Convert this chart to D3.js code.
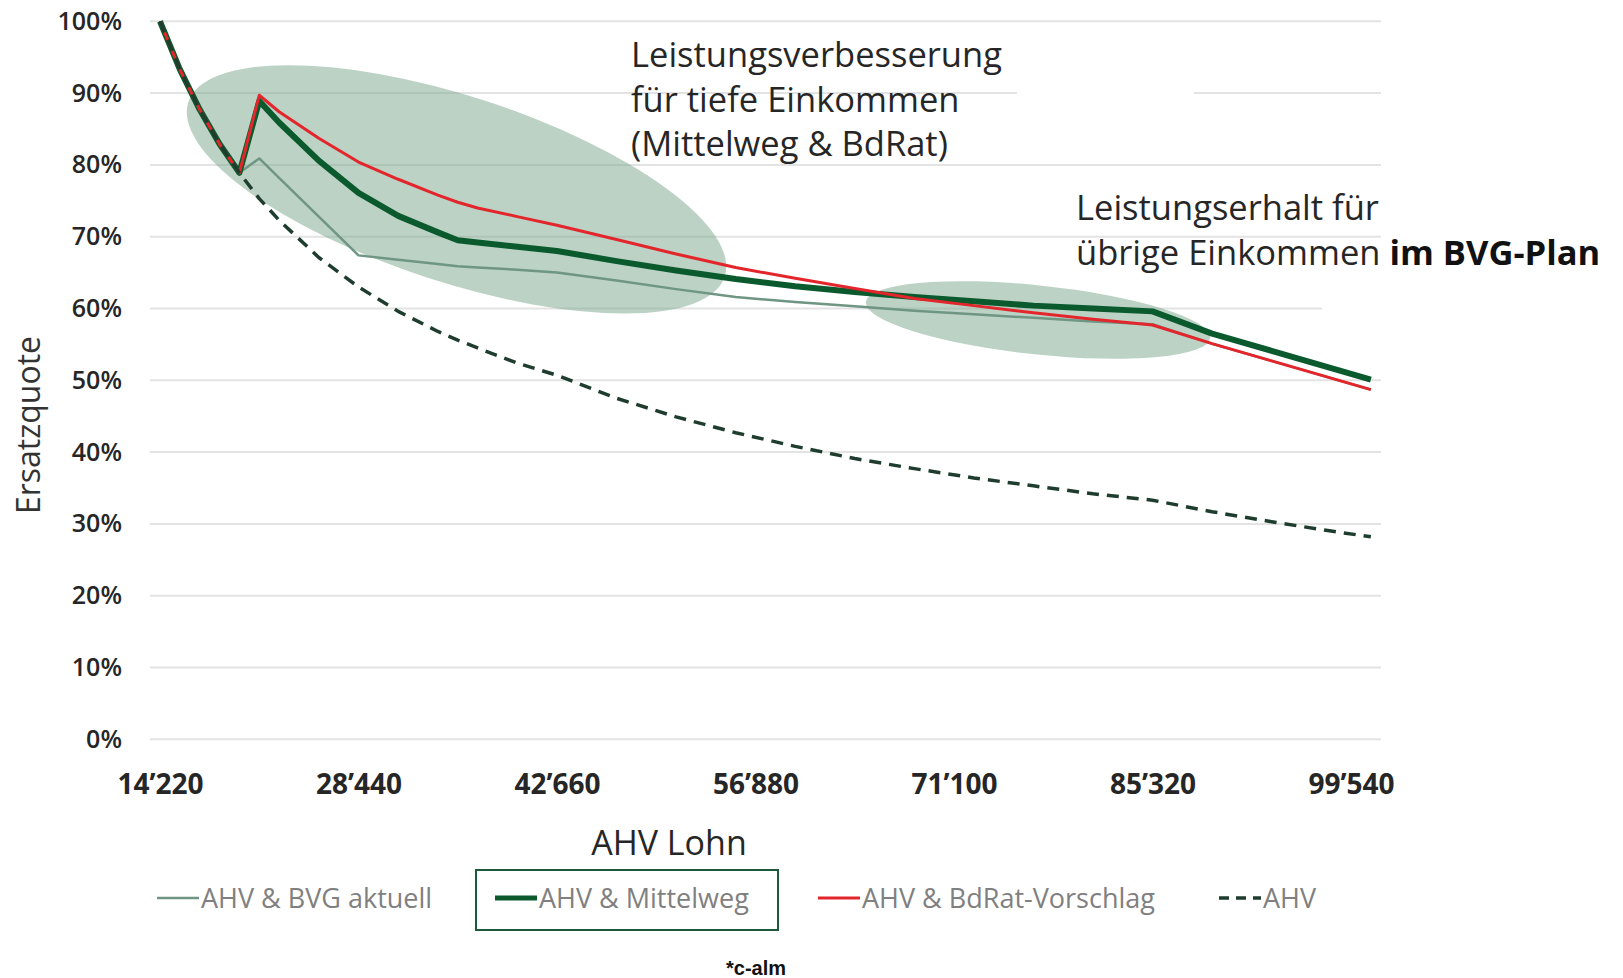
<!DOCTYPE html>
<html>
<head>
<meta charset="utf-8">
<script src="https://cdn.jsdelivr.net/npm/d3@7"></script>
<style>
  body { margin: 0; background: #fff; }
  svg text { font-family: 'Open Sans', 'Noto Sans', sans-serif; }
</style>
</head>
<body>
<div id="graph"></div>
<script>
var lohn = [14220, 15642, 17064, 18486, 19908, 21330, 22752, 25596, 28440, 31284, 34128, 35550,
  36972, 39816, 42660, 46926, 51192, 55458, 59724, 63990, 68256, 72522, 76788, 81054, 85320,
  89586, 93852, 98118, 100962]

// Ersatzquote in %
var bvgAktuell = [100, 93.3, 87.7, 82.9, 78.9, 80.9, 78.2, 72.8, 67.4, 66.8, 66.2, 65.9,
  65.7, 65.4, 65.0, 63.9, 62.7, 61.6, 60.9, 60.3, 59.7, 59.2, 58.7, 58.2, 57.8,
  55.1, 52.7, 50.3, 48.7]
var mittelweg = [100, 93.3, 87.7, 82.9, 78.9, 88.9, 85.9, 80.6, 76.1, 72.9, 70.6, 69.5,
  69.2, 68.6, 68.0, 66.6, 65.3, 64.1, 63.1, 62.3, 61.6, 61.0, 60.4, 60.0, 59.6,
  56.5, 54.1, 51.7, 50.1]
var bdRat = [100, 93.3, 87.7, 82.9, 78.9, 89.7, 87.4, 83.7, 80.4, 78.0, 75.8, 74.8,
  74.0, 72.8, 71.6, 69.6, 67.6, 65.7, 64.2, 62.8, 61.4, 60.4, 59.4, 58.5, 57.7,
  55.1, 52.7, 50.3, 48.7]
var ahv = [100, 93.3, 87.7, 82.9, 78.9, 75.3, 72.3, 67.1, 63.0, 59.6, 56.8, 55.6,
  54.5, 52.4, 50.7, 47.5, 44.9, 42.7, 40.8, 39.1, 37.7, 36.4, 35.3, 34.2, 33.3,
  31.7, 30.3, 29.0, 28.2]

var xTicks = [14220, 28440, 42660, 56880, 71100, 85320, 99540]
var yTicks = [0, 10, 20, 30, 40, 50, 60, 70, 80, 90, 100]

var seriesNames = ['AHV & BVG aktuell', 'AHV & Mittelweg', 'AHV & BdRat-Vorschlag', 'AHV']
var seriesValues = [bvgAktuell, mittelweg, bdRat, ahv]

var W = 1623, H = 978
var svg = d3.select('#graph').append('svg').attr('width', W).attr('height', H)

var x = d3.scaleLinear().domain([14220, 99540]).range([160, 1351])
var y = d3.scaleLinear().domain([0, 100]).range([739.3, 21.3])
var gridX0 = 150, gridX1 = 1381

var styles = [
  {color: '#6f9583', width: 2.5, dash: null},
  {color: '#0a5a2e', width: 6, dash: null},
  {color: '#e3262b', width: 3, dash: null},
  {color: '#1f3d2e', width: 3.5, dash: '12,8'}
]

// gridlines
svg.append('g')
  .selectAll('line').data(yTicks).join('line')
  .attr('x1', gridX0).attr('x2', gridX1)
  .attr('y1', d => y(d)).attr('y2', d => y(d))
  .attr('stroke', '#e3e3e3').attr('stroke-width', 2)

// white gaps left by the text boxes
svg.append('rect').attr('x', 1017).attr('y', y(90) - 3).attr('width', 177).attr('height', 6).attr('fill', '#fff')
svg.append('rect').attr('x', 1322).attr('y', y(60) - 3).attr('width', 62).attr('height', 6).attr('fill', '#fff')

// highlight ellipses (centre in data units, radii in px)
var ellipses = [
  {lohn: 35460, quote: 76.6, rx: 282, ry: 93, angle: 18},
  {lohn: 77120, quote: 58.4, rx: 173, ry: 34.5, angle: 6}
]
svg.append('g').selectAll('ellipse').data(ellipses).join('ellipse')
  .attr('cx', 0).attr('cy', 0)
  .attr('rx', d => d.rx).attr('ry', d => d.ry)
  .attr('transform', d => `translate(${x(d.lohn)},${y(d.quote)}) rotate(${d.angle})`)
  .attr('fill', 'rgb(120,165,140)').attr('fill-opacity', 0.5)

// lines
var line = d3.line().x((d, i) => x(lohn[i])).y(d => y(d))
svg.append('g').selectAll('path').data(seriesValues).join('path')
  .attr('d', d => line(d))
  .attr('fill', 'none')
  .attr('stroke', (d, i) => styles[i].color)
  .attr('stroke-width', (d, i) => styles[i].width)
  .attr('stroke-dasharray', (d, i) => styles[i].dash)
  .attr('stroke-linejoin', 'round')

// y axis
var yAxis = svg.append('g').attr('transform', `translate(${gridX0},0)`)
  .call(d3.axisLeft(y).tickValues(yTicks).tickSize(0).tickPadding(28).tickFormat(d => d + '%'))
yAxis.select('.domain').remove()
yAxis.selectAll('text').attr('font-size', 25).attr('font-weight', 600).attr('fill', '#262626')
  .attr('font-family', "'Open Sans', sans-serif")

// x axis
var fmt = d3.formatLocale({decimal: '.', thousands: '’', grouping: [3], currency: ['', '']}).format(',')
var xAxis = svg.append('g').attr('transform', `translate(0,${y(0)})`)
  .call(d3.axisBottom(x).tickValues(xTicks).tickSize(0).tickPadding(35).tickFormat(fmt))
xAxis.select('.domain').remove()
xAxis.selectAll('text').attr('font-size', 28).attr('font-weight', 700).attr('fill', '#262626')
  .attr('font-family', "'Open Sans', sans-serif")

// axis titles
svg.append('text').text('AHV Lohn')
  .attr('x', 669).attr('y', 855).attr('text-anchor', 'middle')
  .attr('font-size', 34).attr('fill', '#262626')
svg.append('text').text('Ersatzquote')
  .attr('transform', 'translate(40,425) rotate(-90)').attr('text-anchor', 'middle')
  .attr('font-size', 32).attr('fill', '#333')

// annotations
var note1 = ['Leistungsverbesserung', 'für tiefe Einkommen', '(Mittelweg & BdRat)']
svg.append('g').selectAll('text').data(note1).join('text')
  .text(d => d)
  .attr('x', 631).attr('y', (d, i) => 67 + i * 44.5)
  .attr('font-size', 34.5).attr('fill', '#262626')

var n2 = svg.append('g')
n2.append('text').text('Leistungserhalt für')
  .attr('x', 1076).attr('y', 220).attr('font-size', 34.5).attr('fill', '#262626')
var t2 = n2.append('text').attr('x', 1076).attr('y', 265).attr('font-size', 34.5).attr('fill', '#262626')
t2.append('tspan').text('übrige Einkommen ')
t2.append('tspan').text('im BVG-Plan').attr('font-weight', 700).attr('fill', '#111')

// legend
var legendX = [157, 495, 818, 1219]
var legY = 898
var leg = svg.append('g').selectAll('g').data(seriesNames).join('g')
  .attr('transform', (d, i) => `translate(${legendX[i]},${legY})`)
leg.append('line')
  .attr('x1', 0).attr('x2', 42)
  .attr('stroke', (d, i) => styles[i].color)
  .attr('stroke-width', (d, i) => Math.min(styles[i].width, 5))
  .attr('stroke-dasharray', (d, i) => styles[i].dash ? '10,7' : null)
leg.append('text').text(d => d)
  .attr('x', 44).attr('y', 9.5)
  .attr('font-size', 27).attr('fill', '#808080')

svg.append('rect')
  .attr('x', 476).attr('y', 870).attr('width', 302).attr('height', 60)
  .attr('fill', 'none').attr('stroke', '#1d5a3b').attr('stroke-width', 2)

svg.append('text').text('*c-alm')
  .attr('x', 756).attr('y', 975).attr('text-anchor', 'middle')
  .attr('font-size', 20).attr('font-weight', 700).attr('fill', '#111')
  .style('font-family', "'Liberation Sans Narrow', 'Liberation Sans', Arial, sans-serif")
</script>
</body>
</html>
